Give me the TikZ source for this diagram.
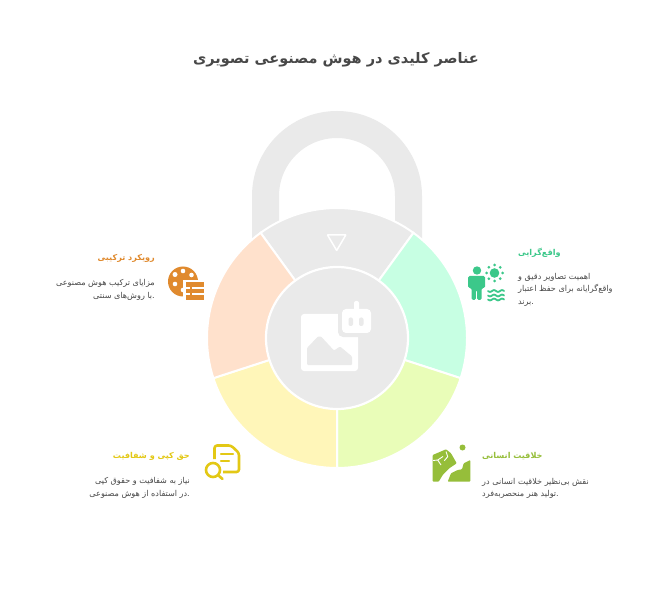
\documentclass[tikz,border=0pt]{standalone}
\usepackage{fontspec}
\newfontfamily\fa[Script=Arabic]{DejaVu Sans}
\TeXXeTstate=1
\definecolor{ringgray}{HTML}{EAEAEA}
\definecolor{segmint}{HTML}{C7FFE3}
\definecolor{seglime}{HTML}{E9FDB8}
\definecolor{segyellow}{HTML}{FFF6B9}
\definecolor{segpeach}{HTML}{FFE1CC}
\definecolor{icorange}{HTML}{E08A2E}
\definecolor{icmint}{HTML}{3CC88A}
\definecolor{iclime}{HTML}{96BE3A}
\definecolor{icyellow}{HTML}{E3C815}
\definecolor{bodytext}{HTML}{484848}
\newcommand{\ringseg}[3]{\fill[#3,draw=white,line width=2pt] (337,-338) -- ++(#1:130) arc[start angle=#1,end angle=#2,radius=130] -- cycle;}
\tikzset{
  x=1pt,y=1pt,
  titletext/.style={inner sep=0pt,font=\fa\bfseries\fontsize{14.5}{17}\selectfont,text=bodytext},
  headtext/.style={inner sep=0pt,font=\fa\bfseries\fontsize{8.1}{10}\selectfont},
  bodyblock/.style={inner sep=0pt,font=\fa\fontsize{8.1}{12.4}\selectfont,text=bodytext},
}
\begin{document}
\begin{tikzpicture}
\useasboundingbox (0,0) rectangle (672,-612);
\fill[white] (0,0) rectangle (672,-612);
% title
\node[titletext] (title) at (336,-60) {\beginR عناصر کلیدی در هوش مصنوعی تصویری\endR};
% shackle
\draw[ringgray,line width=27pt] (265.5,-260) -- (265.5,-196) arc[start angle=180,end angle=0,radius=71.5] -- (408.5,-260);
% ring
\ringseg{54}{126}{ringgray}
\ringseg{-18}{54}{segmint}
\ringseg{-90}{-18}{seglime}
\ringseg{-162}{-90}{segyellow}
\ringseg{126}{198}{segpeach}
\fill[ringgray,draw=white,line width=2.2pt] (337,-338) circle[radius=71];
% triangle marker
\draw[white,line width=1.5pt,line join=round] (327.5,-235) -- (345.8,-235) -- (336.7,-250.5) -- cycle;
% central icon: picture + robot
\fill[white,rounded corners=3pt] (301,-314) rectangle (358,-371);
\fill[ringgray,rounded corners=1pt] (307,-365) -- (307,-348) -- (318,-336.5) -- (321,-336.5) -- (334,-350.5) -- (340,-346.5) -- (352,-356.5) -- (352,-365) -- cycle;
\fill[ringgray,rounded corners=5pt] (338,-305) rectangle (375,-337);
\fill[white,rounded corners=4pt] (342,-309) rectangle (371,-333);
\fill[white,rounded corners=2pt] (354,-301) rectangle (359,-312);
\fill[ringgray,rounded corners=2pt] (348.5,-317.5) rectangle (353,-326);
\fill[ringgray,rounded corners=2pt] (359,-317.5) rectangle (363.5,-326);
% left: combined approach
\node[headtext,text=icorange,anchor=east] (lhead) at (155,-258) {\beginR رویکرد ترکیبی\endR};
\node[bodyblock,font=\fa\fontsize{8.1}{13}\selectfont,anchor=north east,align=right] (lbody) at (155,-279.5) {\beginR مزایای ترکیب هوش مصنوعی\endR\\\beginR با روش‌های سنتی\endR.};
\fill[icorange] (183,-281.5) circle[radius=15];
\foreach \px/\py/\pr in {183/271/2.3,175/274.5/2.5,191.5/275/2.3,175/284/2.3,183/290/2.3}
  \fill[white] (\px,-\py) circle[radius=\pr];
\fill[white] (183,-280) rectangle (206,-302);
\fill[icorange] (185.5,-282) rectangle (204,-300);
\draw[white,line width=1.3pt] (185.5,-288) -- (189.5,-288) (192,-288) -- (204,-288) (185.5,-294) -- (189.5,-294) (192,-294) -- (204,-294);
% right: realism
\node[headtext,text=icmint,anchor=west] (rhead) at (518,-252.5) {\beginR واقع‌گرایی\endR};
\node[bodyblock,anchor=north west,align=left] (rbody) at (518,-273) {\beginR اهمیت تصاویر دقیق و\endR\\\beginR واقع‌گرایانه برای حفظ اعتبار\endR\\\beginR برند\endR.};
\fill[icmint] (477,-270.5) circle[radius=4.2];
\fill[icmint,rounded corners=1.5pt] (468,-276) -- (485,-276) -- (485,-288) -- (481.5,-288) -- (481.5,-300) -- (477.2,-300) -- (477.2,-290) -- (475.8,-290) -- (475.8,-300) -- (471.5,-300) -- (471.5,-288) -- (468,-288) -- cycle;
\fill[icmint] (494.5,-273) circle[radius=4.8];
\foreach \a in {0,45,...,315}
  \fill[icmint] (494.5,-273) ++(\a:8) circle[radius=1.5];
\foreach \wy in {291,295.5,299.5}
  \draw[icmint,line width=1.8pt,line cap=round,smooth,domain=488:504,samples=25] plot (\x,{-\wy-0.9*sin(45*(\x-488))});
% bottom left: copyright and transparency
\node[headtext,text=icyellow,anchor=east] (blhead) at (190,-456) {\beginR حق کپی و شفافیت\endR};
\node[bodyblock,anchor=north east,align=right] (blbody) at (190,-477.5) {\beginR نیاز به شفافیت و حقوق کپی\endR\\\beginR در استفاده از هوش مصنوعی\endR.};
\draw[icyellow,line width=2.6pt,line join=round,rounded corners=2.5pt] (214.5,-459) -- (214.5,-445.5) -- (231,-445.5) -- (239,-453) -- (239,-472) -- (223,-472);
\draw[icyellow,line width=2.2pt,line cap=round] (221,-454) -- (233,-454) (221,-461) -- (229,-461);
\draw[icyellow,line width=2.6pt] (213,-470) circle[radius=7];
\draw[icyellow,line width=2.6pt,line cap=round] (218.5,-475.5) -- (222.5,-479);
% bottom right: human creativity
\node[headtext,text=iclime,anchor=west] (brhead) at (482,-456) {\beginR خلاقیت انسانی\endR};
\node[bodyblock,anchor=north west,align=left] (brbody) at (482,-478) {\beginR نقش بی‌نظیر خلاقیت انسانی در\endR\\\beginR تولید هنر منحصربه‌فرد\endR.};
\fill[iclime] (462.5,-447.5) circle[radius=3];
\fill[iclime,rounded corners=0.8pt] (432.7,-455) -- (446,-449.3) -- (451,-453.3) -- (456.7,-463.3) -- (449.3,-468.3) -- (442.7,-475) -- (438.7,-481.7) -- (432.7,-481.7) -- cycle;
\fill[iclime,rounded corners=0.8pt] (470.3,-460) -- (470.3,-481.7) -- (447.7,-481.7) -- (451,-473.3) -- (457.7,-470) -- (462,-469.3) -- (463.7,-463.3) -- cycle;
\draw[white,line width=0.9pt] (433,-460.5) -- (437.7,-460) -- (441,-465) (437.7,-460) -- (443,-456.5) (446,-451.5) -- (447.7,-456.7) -- (444.3,-460.7);
\end{tikzpicture}
\end{document}
